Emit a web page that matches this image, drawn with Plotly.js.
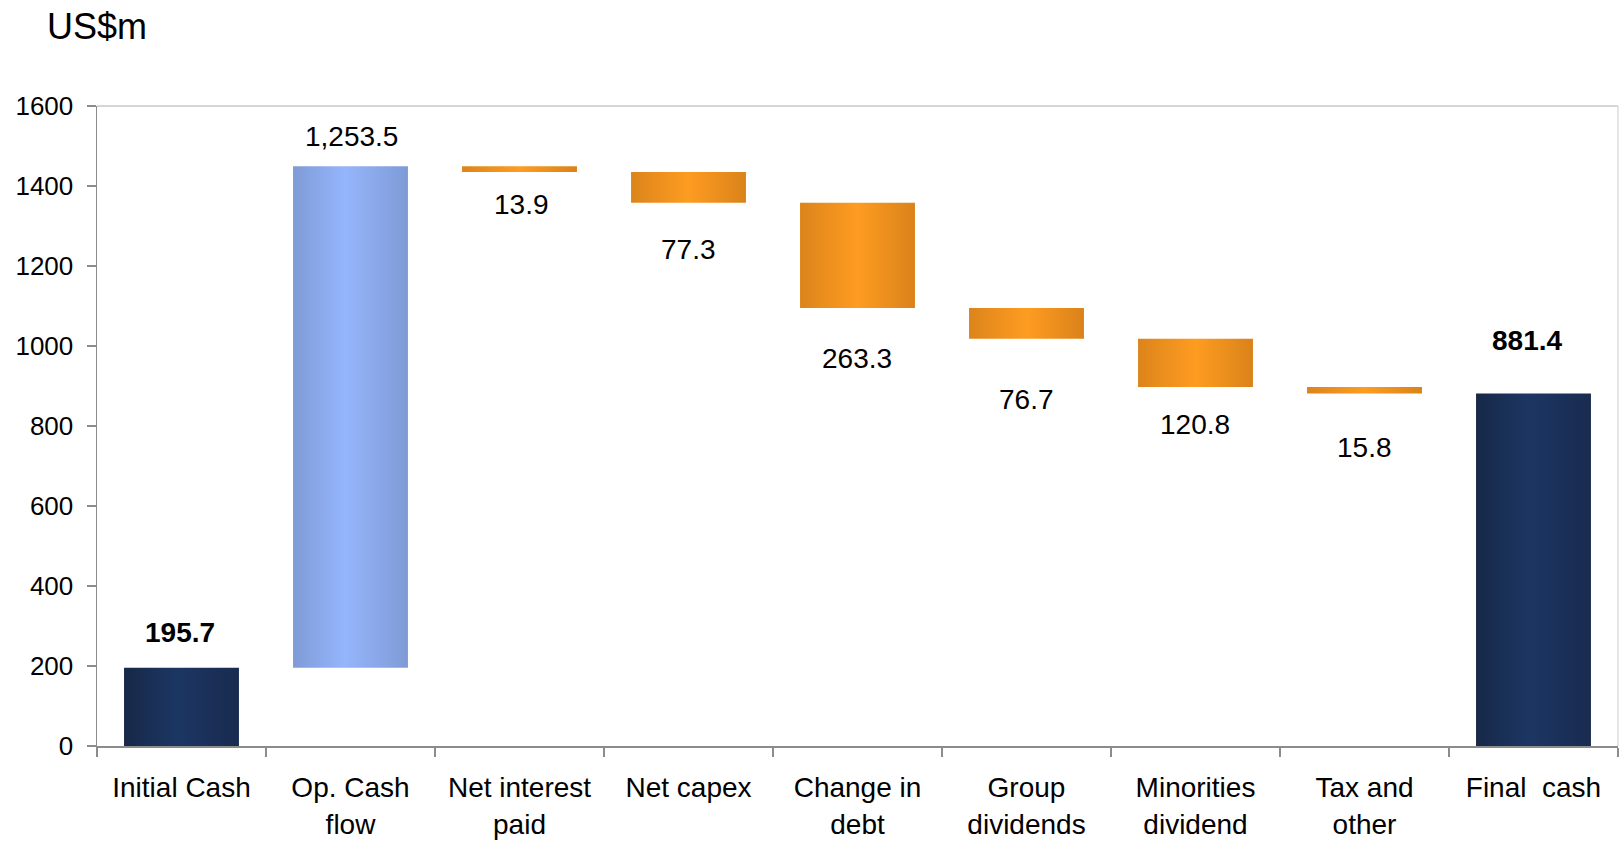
<!DOCTYPE html>
<html>
<head>
<meta charset="utf-8">
<script src="https://cdn.plot.ly/plotly-3.0.1.min.js"></script>
<style>
html,body{margin:0;padding:0;background:#fff;}
#chart{width:1619px;height:845px;}
</style>
</head>
<body>
<div id="chart"></div>
<script>
// ---- data ----
const categories = ["Initial Cash", "Op. Cash<br>flow", "Net interest<br>paid", "Net capex",
  "Change in<br>debt", "Group<br>dividends", "Minorities<br>dividend", "Tax and<br>other", "Final\u00a0 cash"];
const values = [195.7, 1253.5, -13.9, -77.3, -263.3, -76.7, -120.8, -15.8, 881.4];
const kinds = ["total", "increase", "decrease", "decrease", "decrease", "decrease", "decrease", "decrease", "total"];
const valueLabels = ["195.7", "1,253.5", "13.9", "77.3", "263.3", "76.7", "120.8", "15.8", "881.4"];
const yTicks = [0, 200, 400, 600, 800, 1000, 1200, 1400, 1600];

// label placement (pixels from bar edge to text baseline / horizontal nudge), layout only
const labelGap = [26, 21, 43, 57, 60, 71, 47, 64, 44];
const labelDx = [-2, 1, 2, 0, -1, 0, -1, 0, -7];

// ---- build waterfall geometry from data ----
const bases = [], heights = [];
let running = 0;
values.forEach((v, i) => {
  if (kinds[i] === "total") { bases.push(0); heights.push(v); running = v; }
  else if (v >= 0) { bases.push(running); heights.push(v); running += v; }
  else { bases.push(running + v); heights.push(-v); running += v; }
});
const fillIds = kinds.map(k => k === "total" ? "gNavy" : (k === "increase" ? "gBlue" : "gOrange"));
const solid = kinds.map(k => k === "total" ? "#1b3260" : (k === "increase" ? "#8eaef3" : "#f29520"));

const FONT = "Liberation Sans, Arial, sans-serif";

const annotations = categories.map((c, i) => {
  const above = kinds[i] !== "decrease";
  const edge = above ? bases[i] + heights[i] : bases[i];
  const bold = kinds[i] === "total";
  return {
    x: c, y: edge, xref: "x", yref: "y",
    text: bold ? "<b>" + valueLabels[i] + "</b>" : valueLabels[i],
    showarrow: false,
    xanchor: "center",
    yanchor: "middle",
    xshift: labelDx[i],
    yshift: above ? (labelGap[i] + 9) : -(labelGap[i] - 10),
    font: {family: FONT, size: 28, color: "#000"}
  };
});
annotations.push({
  xref: "paper", yref: "paper", x: -52/1521, y: 1 + 79/640,
  xanchor: "left", yanchor: "middle", showarrow: false,
  text: "US$m", font: {family: FONT, size: 36, color: "#000"}
});

const trace = {
  type: "bar",
  x: categories,
  y: heights,
  base: bases,
  width: 0.68,
  marker: {color: solid, line: {width: 0}},
  hoverinfo: "skip",
  showlegend: false
};

const layout = {
  width: 1619, height: 845,
  margin: {l: 97, r: 1, t: 106, b: 99},
  paper_bgcolor: "#fff", plot_bgcolor: "#fff",
  bargap: 0.32,
  xaxis: {
    type: "category",
    showline: true, linecolor: "#8c8c8c", linewidth: 1.5,
    ticks: "outside", tickson: "boundaries", ticklen: 9, tickcolor: "#8c8c8c", tickwidth: 1.5,
    ticklabelstandoff: 16,
    tickfont: {family: FONT, size: 28, color: "#000"},
    showgrid: false, zeroline: false, fixedrange: true
  },
  yaxis: {
    range: [0, 1600], tickvals: yTicks, ticktext: yTicks.map(String),
    showline: true, linecolor: "#8c8c8c", linewidth: 1.5,
    ticks: "outside", ticklen: 9, tickcolor: "#8c8c8c", tickwidth: 1.5,
    ticklabelstandoff: 8,
    tickfont: {family: FONT, size: 26, color: "#000"},
    showgrid: false, zeroline: false, fixedrange: true
  },
  shapes: [
    {type: "line", xref: "paper", yref: "paper", x0: 0, x1: 1, y0: 1, y1: 1, line: {color: "#c8c8c8", width: 1.5}},
    {type: "line", xref: "paper", yref: "paper", x0: 1, x1: 1, y0: 0, y1: 1, line: {color: "#dcdcdc", width: 1.5}}
  ],
  annotations: annotations
};

Plotly.newPlot("chart", [trace], layout, {displayModeBar: false, staticPlot: true}).then(gd => {
  const svg = gd.querySelector("svg.main-svg");
  const NS = "http://www.w3.org/2000/svg";
  let defs = svg.querySelector("defs");
  if (!defs) { defs = document.createElementNS(NS, "defs"); svg.insertBefore(defs, svg.firstChild); }
  const grads = {
    gNavy: [["0", "#172847"], ["0.45", "#1c3663"], ["1", "#192b50"]],
    gBlue: [["0", "#7f9bd6"], ["0.45", "#95b5fc"], ["1", "#7f9bd6"]],
    gOrange: [["0", "#dc841b"], ["0.5", "#fe9c21"], ["1", "#da821a"]]
  };
  Object.keys(grads).forEach(id => {
    const lg = document.createElementNS(NS, "linearGradient");
    lg.setAttribute("id", id);
    lg.setAttribute("x1", "0"); lg.setAttribute("x2", "1");
    lg.setAttribute("y1", "0"); lg.setAttribute("y2", "0");
    grads[id].forEach(s => {
      const st = document.createElementNS(NS, "stop");
      st.setAttribute("offset", s[0]);
      st.setAttribute("stop-color", s[1]);
      lg.appendChild(st);
    });
    defs.appendChild(lg);
  });
  gd.querySelectorAll(".bars .point path").forEach((p, i) => {
    p.style.fill = "url(#" + fillIds[i] + ")";
  });
});
</script>
</body>
</html>
